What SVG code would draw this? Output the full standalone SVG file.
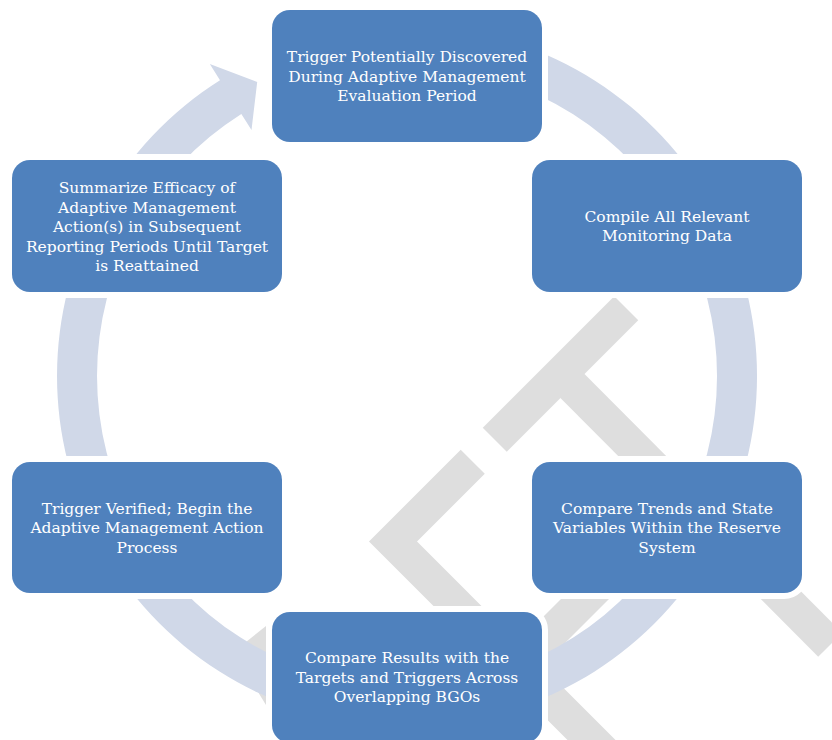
<svg xmlns="http://www.w3.org/2000/svg" width="832" height="740" viewBox="0 0 832 740">
<defs>
<style>
.box{fill:#4F81BD;stroke:#FFFFFF;stroke-width:12;paint-order:stroke}
.lbl{font-family:"DejaVu Serif","Liberation Serif",serif;font-size:15.5px;fill:#FFFFFF;text-anchor:middle}
.wm{fill:none;stroke:#DEDEDE;stroke-width:34}
.wmf{fill:#DEDEDE}
.ring{fill:#D0D8E8}
</style>
</defs>
<rect width="832" height="740" fill="#FFFFFF"/>
<g id="watermark">
<path class="wm" d="M472.75,461.75 L393,541.5 L611.5,760" stroke-linejoin="miter"/>
<path class="wm" d="M494.75,439.75 L626.25,308.25"/>
<path class="wm" d="M560.5,374 L830.25,644.75"/>
<path class="wm" d="M522,662 L622,562"/>
<polygon class="wmf" points="266,626 246,642 250,665 258,692 266,705"/>
</g>
<g id="connectors">
<path class="ring" d="M298.84,43.13 A350,350 0 1 1 219.98,80.16 L209.83,64.1 L257.2,82 L251.5,130.03 L241.35,113.97 A310,310 0 1 0 311.2,81.17 Z"/>
</g>
<g id="node1">
<rect class="box" x="272" y="10" width="270" height="132" rx="18"/>
<text class="lbl" x="407" y="62">Trigger Potentially Discovered</text>
<text class="lbl" x="407" y="81.5">During Adaptive Management</text>
<text class="lbl" x="407" y="101">Evaluation Period</text>
</g>
<g id="node2">
<rect class="box" x="532" y="160" width="270" height="132" rx="18"/>
<text class="lbl" x="667" y="221.5">Compile All Relevant</text>
<text class="lbl" x="667" y="241">Monitoring Data</text>
</g>
<g id="node3">
<rect class="box" x="532" y="462" width="270" height="131" rx="18"/>
<text class="lbl" x="667" y="513.5">Compare Trends and State</text>
<text class="lbl" x="667" y="533">Variables Within the Reserve</text>
<text class="lbl" x="667" y="552.5">System</text>
</g>
<g id="node4">
<rect class="box" x="272" y="612" width="270" height="131" rx="18"/>
<text class="lbl" x="407" y="663">Compare Results with the</text>
<text class="lbl" x="407" y="682.5">Targets and Triggers Across</text>
<text class="lbl" x="407" y="702">Overlapping BGOs</text>
</g>
<g id="node5">
<rect class="box" x="12" y="462" width="270" height="131" rx="18"/>
<text class="lbl" x="147" y="513.5">Trigger Verified; Begin the</text>
<text class="lbl" x="147" y="533">Adaptive Management Action</text>
<text class="lbl" x="147" y="552.5">Process</text>
</g>
<g id="node6">
<rect class="box" x="12" y="160" width="270" height="132" rx="18"/>
<text class="lbl" x="147" y="193">Summarize Efficacy of</text>
<text class="lbl" x="147" y="212.5">Adaptive Management</text>
<text class="lbl" x="147" y="232">Action(s) in Subsequent</text>
<text class="lbl" x="147" y="251.5">Reporting Periods Until Target</text>
<text class="lbl" x="147" y="271">is Reattained</text>
</g>
</svg>
